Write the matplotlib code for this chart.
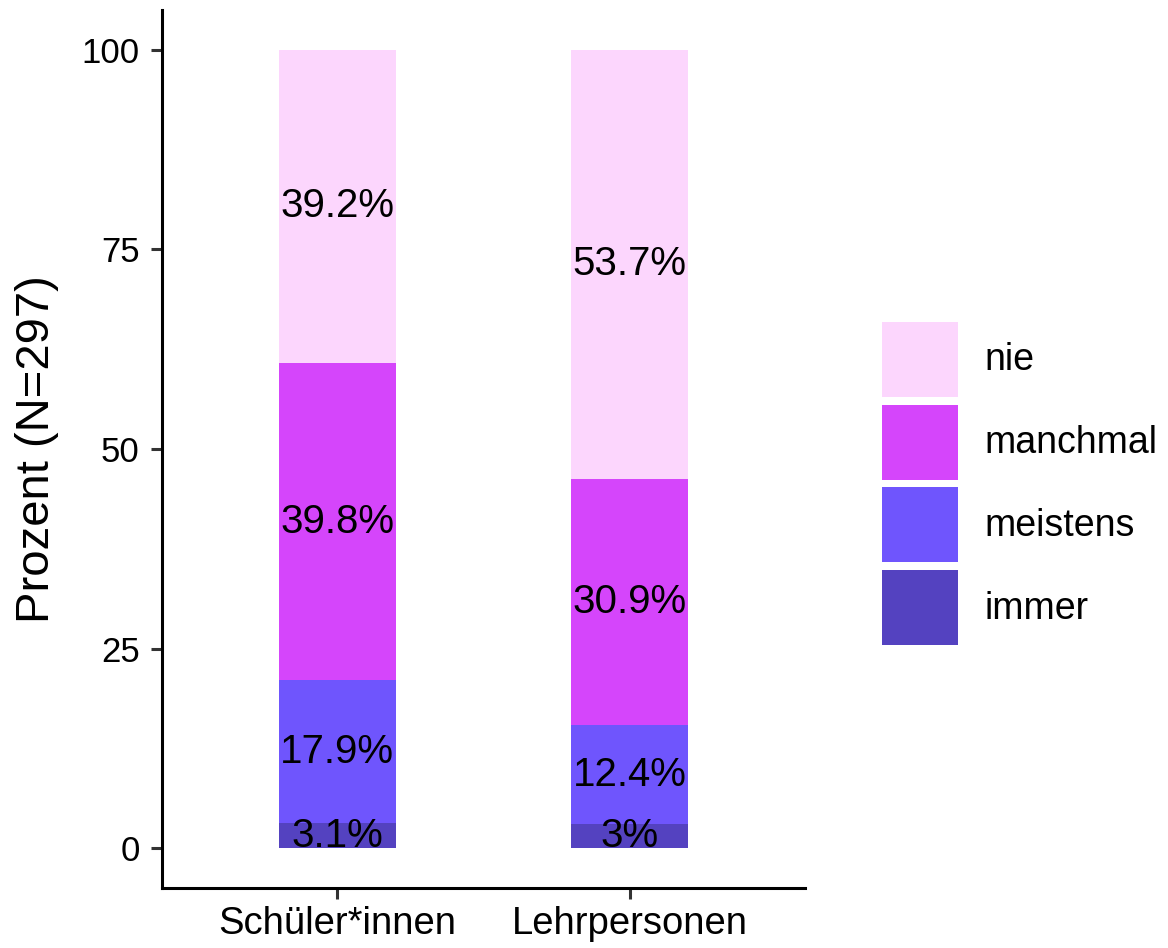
import numpy as np
import matplotlib
matplotlib.use('Agg')
import matplotlib.pyplot as plt

plt.rcParams['font.family'] = ['Liberation Sans', 'DejaVu Sans']

# data
groups = ['Schüler*innen', 'Lehrpersonen']
levels = ['immer', 'meistens', 'manchmal', 'nie']  # bottom to top
immer = [3.1, 3.0]
meistens = [17.9, 12.4]
manchmal = [39.8, 30.9]
nie = [39.2, 53.7]
value_labels = {
    'immer': ['3.1%', '3%'],
    'meistens': ['17.9%', '12.4%'],
    'manchmal': ['39.8%', '30.9%'],
    'nie': ['39.2%', '53.7%'],
}
colors = {'immer': '#5442C0', 'meistens': '#6F55FD', 'manchmal': '#D545FB', 'nie': '#FCD6FD'}

series = {'immer': immer, 'meistens': meistens, 'manchmal': manchmal, 'nie': nie}

fig = plt.figure(figsize=(11.68, 9.48), dpi=100)
ax = fig.add_axes([0.1387, 0.0633, 0.5505, 0.9262])

x = np.arange(1, len(groups) + 1)
bottom = np.zeros(len(groups))
handles = {}
for lev in levels:
    vals = np.array(series[lev])
    b = ax.bar(x, vals, width=0.4, bottom=bottom, color=colors[lev],
               linewidth=0, label=lev)
    handles[lev] = b
    for xi, bi, v, lab in zip(x, bottom, vals, value_labels[lev]):
        ax.text(xi, bi + v / 2, lab, ha='center', va='center', fontsize=29, color='black')
    bottom += vals

ax.set_xlim(0.4, 2.6)
ax.set_ylim(-5, 105)
ax.set_yticks([0, 25, 50, 75, 100])
ax.set_xticks(x)
ax.set_xticklabels(groups)
ax.set_ylabel('Prozent (N=297)', fontsize=34, labelpad=16)

for s in ['top', 'right']:
    ax.spines[s].set_visible(False)
for s in ['left', 'bottom']:
    ax.spines[s].set_linewidth(2.2)
    ax.spines[s].set_color('black')
ax.tick_params(axis='both', length=8, width=2.2, color='#333333', labelcolor='black', pad=8)
ax.tick_params(axis='y', labelsize=25)
ax.tick_params(axis='x', labelsize=27.5, pad=5)

leg_order = ['nie', 'manchmal', 'meistens', 'immer']
fig.legend([handles[l] for l in leg_order], leg_order, loc='center left',
           bbox_to_anchor=(0.755, 0.49), frameon=False, fontsize=27,
           handlelength=2.03, handleheight=2.7, labelspacing=0.21, handletextpad=0.72,
           borderaxespad=0, borderpad=0)

fig.savefig('out.png', dpi=100)
